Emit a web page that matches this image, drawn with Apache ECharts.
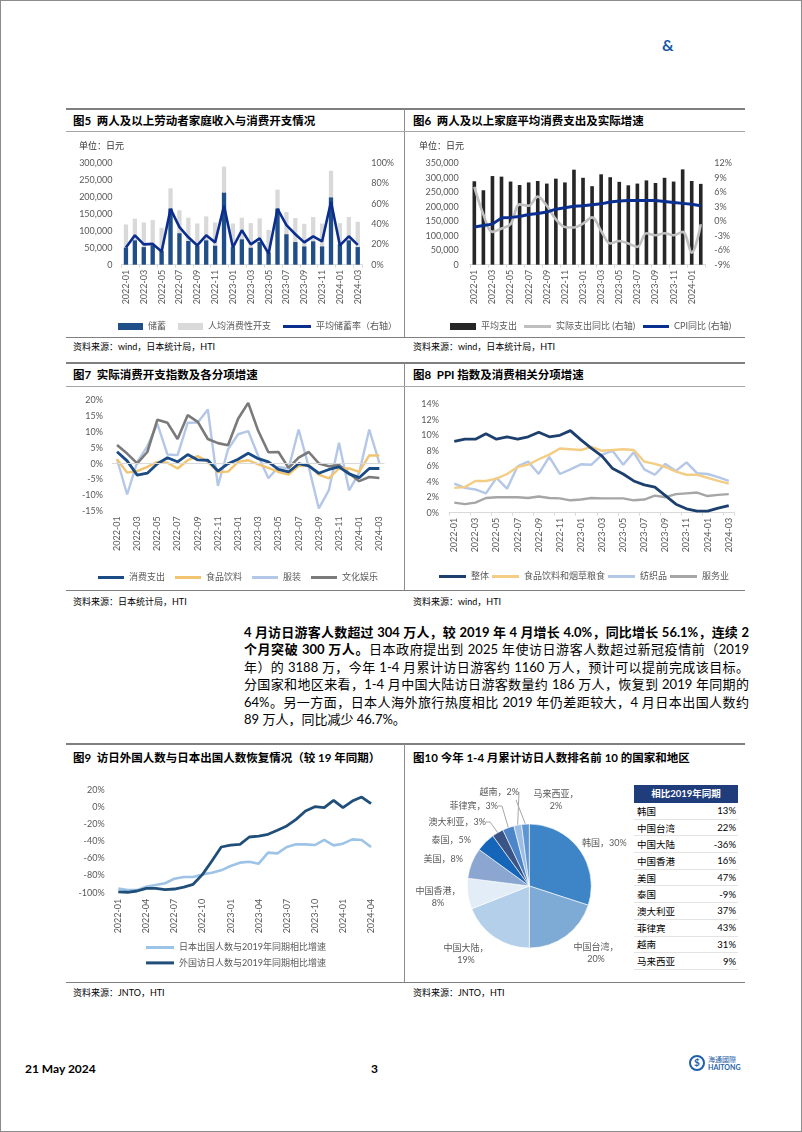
<!DOCTYPE html>
<html><head><meta charset="utf-8">
<script src="https://cdn.jsdelivr.net/npm/echarts/dist/echarts.min.js"></script>
<style>
html,body{margin:0;padding:0;background:#fff;}
#page{position:relative;width:802px;height:1132px;box-sizing:border-box;border:1px solid #8c8c8c;overflow:hidden;font-family:Lato,"Noto Sans CJK SC",sans-serif;}
.abs{position:absolute;}
.hl{position:absolute;height:0;}
.vl{position:absolute;width:0;}
.title{position:absolute;font-weight:bold;font-size:11.5px;color:#000;white-space:nowrap;line-height:14px;font-family:Lato,"Noto Sans CJK SC",sans-serif;}
.src{position:absolute;font-size:9px;color:#000;white-space:nowrap;line-height:11px;}
.para{position:absolute;left:243px;width:505px;font-size:13px;line-height:17.4px;color:#000;}
.para div{white-space:nowrap;text-align:justify;text-align-last:justify;}
.chart{position:absolute;}
.trow{display:flex;justify-content:space-between;align-items:center;height:16.7px;box-sizing:border-box;border-bottom:1px solid #e3e3e3;font-size:9.5px;color:#000;padding:0 2px 0 3px;}
.thead{height:18px;background:#1f3d7a;color:#fff;font-weight:bold;font-size:9.5px;text-align:center;line-height:18px;}
</style>
</head><body>
<div id="page">
  <div class="abs" style="left:661px;top:34px;font-size:16px;font-weight:bold;color:#1a5ba6;">&amp;</div>

  <!-- Row 1 -->
  <div class="hl" style="left:65px;width:679px;top:107px;border-top:2px solid #7f7f7f;"></div>
  <div class="vl" style="left:403px;top:108px;height:229px;border-left:1px solid #8c8c8c;"></div>
  <div class="title" style="left:72px;top:113px;">图5&nbsp;&nbsp;两人及以上劳动者家庭收入与消费开支情况</div>
  <div class="title" style="left:412px;top:113px;">图6&nbsp;&nbsp;两人及以上家庭平均消费支出及实际增速</div>
  <div class="hl" style="left:65px;width:679px;top:130px;border-top:1px solid #a6a6a6;"></div>
  <div class="abs" style="left:78px;top:138px;font-size:9px;color:#333;z-index:3;">单位：日元</div>
  <div class="abs" style="left:418px;top:138px;font-size:9px;color:#333;z-index:3;">单位：日元</div>
  <div class="hl" style="left:65px;width:679px;top:336px;border-top:1.5px solid #7f7f7f;"></div>
  <div class="src" style="left:72px;top:340px;">资料来源：wind，日本统计局，HTI</div>
  <div class="src" style="left:412px;top:340px;">资料来源：wind，日本统计局，HTI</div>

  <!-- Row 2 -->
  <div class="hl" style="left:65px;width:679px;top:361px;border-top:2px solid #7f7f7f;"></div>
  <div class="vl" style="left:403px;top:362px;height:228px;border-left:1px solid #8c8c8c;"></div>
  <div class="title" style="left:72px;top:367px;">图7&nbsp;&nbsp;实际消费开支指数及各分项增速</div>
  <div class="title" style="left:412px;top:367px;">图8&nbsp;&nbsp;PPI 指数及消费相关分项增速</div>
  <div class="hl" style="left:65px;width:679px;top:385px;border-top:1px solid #a6a6a6;"></div>
  <div class="hl" style="left:65px;width:679px;top:589px;border-top:1.5px solid #7f7f7f;"></div>
  <div class="src" style="left:72px;top:595px;">资料来源：日本统计局，HTI</div>
  <div class="src" style="left:412px;top:595px;">资料来源：wind，HTI</div>

  <!-- Paragraph -->
  <div class="para" style="top:623px;">
    <div><b>4 月访日游客人数超过 304 万人，较 2019 年 4 月增长 4.0%，同比增长 56.1%，连续 2</b></div>
    <div><b>个月突破 300 万人。</b>日本政府提出到 2025 年使访日游客人数超过新冠疫情前（2019</div>
    <div>年）的 3188 万，今年 1-4 月累计访日游客约 1160 万人，预计可以提前完成该目标。</div>
    <div>分国家和地区来看，1-4 月中国大陆访日游客数量约 186 万人，恢复到 2019 年同期的</div>
    <div>64%。另一方面，日本人海外旅行热度相比 2019 年仍差距较大，4 月日本出国人数约</div>
    <div style="text-align-last:left;">89 万人，同比减少 46.7%。</div>
  </div>

  <!-- Row 3 -->
  <div class="hl" style="left:65px;width:679px;top:742px;border-top:2px solid #7f7f7f;"></div>
  <div class="vl" style="left:403px;top:743px;height:239px;border-left:1px solid #8c8c8c;"></div>
  <div class="title" style="left:72px;top:750px;">图9&nbsp;&nbsp;访日外国人数与日本出国人数恢复情况（较 19 年同期）</div>
  <div class="title" style="left:412px;top:750px;">图10 今年 1-4 月累计访日人数排名前 10 的国家和地区</div>
  <div class="hl" style="left:65px;width:679px;top:981px;border-top:1.5px solid #7f7f7f;"></div>
  <div class="src" style="left:72px;top:986px;">资料来源：JNTO，HTI</div>
  <div class="src" style="left:412px;top:986px;">资料来源：JNTO，HTI</div>

  <!-- Footer -->
  <div class="abs" style="left:24px;top:1060px;font-size:12px;font-weight:bold;">21 May 2024</div>
  <div class="abs" style="left:370px;top:1060px;font-size:12px;font-weight:bold;">3</div>
  <div class="abs" style="left:688px;top:1054px;width:16px;height:16px;border-radius:50%;border:2px solid #1f5fa8;box-sizing:border-box;"></div>
  <div class="abs" style="left:693px;top:1055px;font-size:10px;font-weight:bold;color:#1f5fa8;">$</div>
  <div class="abs" style="left:707px;top:1054px;font-size:7px;color:#1f5fa8;line-height:8px;">海通國際<br><b>HAITONG</b></div>

  <div id="c5" class="chart" style="left:65px;top:131px;width:338px;height:205px;"></div>
  <div id="c6" class="chart" style="left:405px;top:131px;width:339px;height:205px;"></div>
  <div id="c7" class="chart" style="left:65px;top:386px;width:338px;height:204px;"></div>
  <div id="c8" class="chart" style="left:405px;top:386px;width:339px;height:204px;"></div>
  <div id="c9" class="chart" style="left:65px;top:768px;width:338px;height:214px;"></div>
  <div id="c10" class="chart" style="left:405px;top:768px;width:339px;height:214px;"></div>
  <div id="tbl" class="abs" style="left:633px;top:784px;width:104px;z-index:3;background:#fff;"></div>
</div>
<script>
// ---------------- DATA ----------------
const fig5Months = ['2022-01','2022-02','2022-03','2022-04','2022-05','2022-06','2022-07','2022-08','2022-09','2022-10','2022-11','2022-12','2023-01','2023-02','2023-03','2023-04','2023-05','2023-06','2023-07','2023-08','2023-09','2023-10','2023-11','2023-12','2024-01','2024-02','2024-03'];
const fig5Savings = [50500,72000,52000,57000,40000,166000,93000,70000,56000,72000,56000,213000,52000,75000,50000,67000,36000,166000,90000,67000,54000,69000,54000,199000,60000,72000,52000];
const fig5Consumption = [119000,136000,125000,132000,109000,226000,161000,139000,122000,143000,125000,290000,122000,139000,123000,137000,103000,222000,156000,138000,121000,141000,122000,278000,123000,141000,127000];
const fig5Rate = [17,29,20,20.5,13,55,37,27,19,29,22,58,17,34,20,26,11,55,39,30,22,28,23,62,19,28,19.5];

const fig6Months = ['2022-01','2022-02','2022-03','2022-04','2022-05','2022-06','2022-07','2022-08','2022-09','2022-10','2022-11','2022-12','2023-01','2023-02','2023-03','2023-04','2023-05','2023-06','2023-07','2023-08','2023-09','2023-10','2023-11','2023-12','2024-01','2024-02'];
const fig6Spend = [288000,257000,306000,304000,287000,275000,284000,289000,280000,297000,284000,328000,300000,271000,312000,302000,286000,274000,280000,291000,282000,300000,287000,329000,289000,279000];
const fig6RealYoY = [7.1,1.4,-2.2,-1.5,-0.6,3.5,3.2,5.1,3.2,0.4,-1.2,-1.3,-0.5,0.8,-2.0,-4.6,-4.1,-4.6,-5.3,-2.5,-2.9,-2.5,-2.9,-2.2,-6.5,-0.6];
const fig6Cpi = [-1.2,-0.9,-0.6,0.7,0.8,1.0,1.4,1.6,1.9,2.5,2.8,3.1,3.2,3.4,3.6,4.0,4.2,4.3,4.3,4.3,4.3,4.1,3.9,3.7,3.5,3.2];

const fig7Months = ['2022-01','2022-02','2022-03','2022-04','2022-05','2022-06','2022-07','2022-08','2022-09','2022-10','2022-11','2022-12','2023-01','2023-02','2023-03','2023-04','2023-05','2023-06','2023-07','2023-08','2023-09','2023-10','2023-11','2023-12','2024-01','2024-02','2024-03'];
const fig7Total = [3.8,0.9,-3.6,-3.0,0,1.9,0.6,2.9,1.2,1.1,-2.3,0,1.4,3.3,1.6,0.6,-1.8,-2.6,0,-0.7,-3.0,-1.8,-1.0,-3.2,-4.4,-1.5,-1.5];
const fig7Food = [1.4,-2.8,-2.3,-1.0,0.6,0.3,-1.5,1.1,2.4,0.6,-2.6,-2.5,0.6,1.1,-0.2,-1.3,-2.6,-3.4,-0.7,-0.4,-3.4,-4.6,-1.5,-1.5,-2.6,2.6,2.6];
const fig7Clothing = [1.4,-9.7,0.5,5.5,12.6,2.9,2.7,12.9,13,17.1,-7.0,4.5,9.3,10.3,2.4,-4.6,-1.0,-1.5,10.8,-1.0,-14.1,-8.3,6.6,-8.4,-2.8,10.8,0.3];
const fig7Culture = [5.9,3.2,0.1,3.7,13.9,12.9,7.8,15.3,13.2,7.8,6.5,5.8,14.2,19.2,10.3,3.6,3.7,-1.3,1.9,3.7,0.1,-0.8,-0.4,-3.0,-5.5,-4.2,-4.5];

const fig8Months = ['2022-01','2022-02','2022-03','2022-04','2022-05','2022-06','2022-07','2022-08','2022-09','2022-10','2022-11','2022-12','2023-01','2023-02','2023-03','2023-04','2023-05','2023-06','2023-07','2023-08','2023-09','2023-10','2023-11','2023-12','2024-01','2024-02','2024-03'];
const fig8Overall = [9.2,9.5,9.5,10.2,9.5,9.8,9.5,9.8,10.4,9.8,10.0,10.6,9.4,8.3,7.3,5.7,5.0,4.1,3.6,3.3,2.2,1.1,0.5,0.2,0.2,0.6,0.9];
const fig8Food = [3.2,3.3,4.1,4.1,4.4,5.0,5.9,6.2,6.9,7.5,8.3,8.2,8.1,8.5,8.0,8.1,8.2,8.1,6.6,6.3,5.9,5.3,4.9,4.9,4.5,4.1,3.75];
const fig8Textile = [3.75,3.2,3.0,2.5,4.5,3.1,6.0,6.6,5.0,7.2,5.0,5.6,6.25,6.2,7.5,8.0,6.2,7.8,5.6,4.9,6.3,5.4,6.5,5.1,5.0,4.6,4.1];
const fig8Service = [1.3,1.1,1.3,1.9,2.0,2.0,2.0,1.9,2.1,1.9,1.85,1.6,1.7,1.9,1.85,1.85,1.85,1.6,1.7,2.2,2.0,2.4,2.5,2.6,2.15,2.3,2.4];

const fig9Months = ['2022-01','2022-02','2022-03','2022-04','2022-05','2022-06','2022-07','2022-08','2022-09','2022-10','2022-11','2022-12','2023-01','2023-02','2023-03','2023-04','2023-05','2023-06','2023-07','2023-08','2023-09','2023-10','2023-11','2023-12','2024-01','2024-02','2024-03','2024-04'];
const fig9Outbound = [-95,-97,-97,-93,-91,-89,-83.6,-81.7,-81.7,-78.6,-76.6,-73.9,-68.8,-64.9,-63.8,-66.1,-53.2,-54,-46.6,-43.5,-43.5,-44.3,-38.4,-44.7,-42.7,-37.7,-38.4,-46.7];
const fig9Inbound = [-99,-99.5,-98,-95,-95,-96.5,-95.7,-93.4,-90.2,-78.6,-63,-46.6,-44.3,-43.5,-34.9,-33.8,-31.8,-27.1,-22,-14.3,-4.5,0.5,-0.6,7.9,-0.6,7.1,11.8,4.0];

const fig10Countries = ['韩国','中国台湾','中国大陆','中国香港','美国','泰国','澳大利亚','菲律宾','越南','马来西亚'];
const fig10Share = [30,20,19,8,8,5,3,3,2,2];
const fig10Vs2019 = [13,22,-36,16,47,-9,37,43,31,9];

// ---------------- STYLE ----------------
const FONT = 'Lato, "Noto Sans CJK SC", sans-serif';
const LBL = '#595959';
const axisTxt = {fontSize:9, color:LBL, fontFamily:FONT};
const legendTxt = {fontSize:9, color:LBL, fontFamily:FONT};

function catAxis(data, interval, opts){
  return Object.assign({
    type:'category', data:data,
    axisLine:{show:true, lineStyle:{color:'#d9d9d9'}},
    axisTick:{show:true, length:3, lineStyle:{color:'#d9d9d9'}},
    axisLabel:Object.assign({rotate:90, interval:interval, margin:5}, axisTxt)
  }, opts||{});
}
function valAxis(min,max,iv,fmt,margin){
  return {type:'value', min:min, max:max, interval:iv,
    splitLine:{show:false}, axisLine:{show:false}, axisTick:{show:false},
    axisLabel:Object.assign({formatter:fmt, margin:margin}, axisTxt)};
}
function lg(left, top, names, extra){
  return Object.assign({left:left, top:top, icon:'rect', itemWidth:26, itemHeight:3, itemGap:10,
    textStyle:legendTxt, data:names}, extra||{});
}
const pct = v => v + '%';
const thousands = v => String(v).replace(/\B(?=(\d{3})+(?!\d))/g, ',');

// Fig 5
echarts.init(document.getElementById('c5')).setOption({
  animation:false,
  grid:{left:55.5, right:41.8, top:31.3, bottom:72.3},
  legend:[
    lg(47, 185, ['储蓄','人均消费性开支'], {itemWidth:25, itemHeight:7, itemGap:12}),
    lg(212, 185, ['平均储蓄率（右轴）'], {itemWidth:28})
  ],
  xAxis:catAxis(fig5Months,1),
  yAxis:[valAxis(0,300000,50000,thousands,9), valAxis(0,100,20,pct,9)],
  series:[
    {name:'人均消费性开支', type:'bar', data:fig5Consumption, barWidth:'48%', barGap:'-100%', itemStyle:{color:'#d9d9d9'}},
    {name:'储蓄', type:'bar', data:fig5Savings, barWidth:'48%', barGap:'-100%', itemStyle:{color:'#1f4e89'}},
    {name:'平均储蓄率（右轴）', type:'line', yAxisIndex:1, data:fig5Rate, symbol:'none',
      lineStyle:{width:2.6, color:'#0b2e8e'}, itemStyle:{color:'#0b2e8e'}}
  ]
});

// Fig 6
echarts.init(document.getElementById('c6')).setOption({
  animation:false,
  grid:{left:63.8, right:39.7, top:31.3, bottom:72.3},
  legend:[
    lg(39, 185, ['平均支出'], {itemWidth:26, itemHeight:7}),
    lg(113, 185, ['实际支出同比 (右轴)'], {itemWidth:27}),
    lg(232, 185, ['CPI同比 (右轴)'], {itemWidth:26})
  ],
  xAxis:catAxis(fig6Months,1),
  yAxis:[valAxis(0,350000,50000,thousands,11), valAxis(-9,12,3,pct,9)],
  series:[
    {name:'平均支出', type:'bar', data:fig6Spend, barWidth:'40%', itemStyle:{color:'#262626'}},
    {name:'实际支出同比 (右轴)', type:'line', yAxisIndex:1, data:fig6RealYoY, symbol:'none', smooth:0.35,
      lineStyle:{width:2.6, color:'#bfbfbf'}, itemStyle:{color:'#bfbfbf'}},
    {name:'CPI同比 (右轴)', type:'line', yAxisIndex:1, data:fig6Cpi, symbol:'none',
      lineStyle:{width:3, color:'#0a2f91'}, itemStyle:{color:'#0a2f91'}}
  ]
});

// Fig 7
echarts.init(document.getElementById('c7')).setOption({
  animation:false,
  grid:{left:46, right:19.6, top:13.3, bottom:79.7},
  legend:lg(27, 181, ['消费支出','食品饮料','服装','文化娱乐'], {itemGap:10}),
  xAxis:catAxis(fig7Months,1,{axisLine:{show:false}, axisTick:{show:false}}),
  yAxis:valAxis(-15,20,5,pct,9),
  series:[
    {name:'服装', type:'line', data:fig7Clothing, symbol:'none', lineStyle:{width:2.4,color:'#b4c7e7'}, itemStyle:{color:'#b4c7e7'},
      markLine:{silent:true, symbol:'none', label:{show:false}, lineStyle:{color:'#d9d9d9', width:1, type:'solid'}, data:[{yAxis:0}]}},
    {name:'文化娱乐', type:'line', data:fig7Culture, symbol:'none', lineStyle:{width:2.6,color:'#7a7a7a'}, itemStyle:{color:'#7a7a7a'}},
    {name:'食品饮料', type:'line', data:fig7Food, symbol:'none', lineStyle:{width:2.4,color:'#f2c46f'}, itemStyle:{color:'#f2c46f'}},
    {name:'消费支出', type:'line', data:fig7Total, symbol:'none', lineStyle:{width:2.8,color:'#1a4b84'}, itemStyle:{color:'#1a4b84'}}
  ]
});

// Fig 8
echarts.init(document.getElementById('c8')).setOption({
  animation:false,
  grid:{left:43, right:11, top:17.3, bottom:78.3},
  legend:lg(28, 180, ['整体','食品饮料和烟草粮食','纺织品','服务业'], {itemGap:3, itemWidth:27}),
  xAxis:catAxis(fig8Months,1),
  yAxis:valAxis(0,14,2,pct,10),
  series:[
    {name:'服务业', type:'line', data:fig8Service, symbol:'none', lineStyle:{width:2.4,color:'#a6a6a6'}, itemStyle:{color:'#a6a6a6'}},
    {name:'纺织品', type:'line', data:fig8Textile, symbol:'none', lineStyle:{width:2.4,color:'#b4c7e7'}, itemStyle:{color:'#b4c7e7'}},
    {name:'食品饮料和烟草粮食', type:'line', data:fig8Food, symbol:'none', lineStyle:{width:2.4,color:'#f4cd85'}, itemStyle:{color:'#f4cd85'}},
    {name:'整体', type:'line', data:fig8Overall, symbol:'none', lineStyle:{width:2.8,color:'#1c3f6e'}, itemStyle:{color:'#1c3f6e'}}
  ]
});

// Fig 9
echarts.init(document.getElementById('c9')).setOption({
  animation:false,
  grid:{left:47.6, right:28.3, top:21, bottom:90.3},
  legend:lg(75, 169, ['日本出国人数与2019年同期相比增速','外国访日人数与2019年同期相比增速'],
    {orient:'vertical', itemWidth:28, itemGap:6.4}),
  xAxis:catAxis(fig9Months,2,{axisLine:{show:false}, axisTick:{show:false}, axisLabel:Object.assign({rotate:90, interval:2, margin:6}, axisTxt)}),
  yAxis:valAxis(-100,20,20,pct,9),
  series:[
    {name:'日本出国人数与2019年同期相比增速', type:'line', data:fig9Outbound, symbol:'none', lineStyle:{width:2.6,color:'#9dc3e6'}, itemStyle:{color:'#9dc3e6'}},
    {name:'外国访日人数与2019年同期相比增速', type:'line', data:fig9Inbound, symbol:'none', lineStyle:{width:2.8,color:'#1f4e79'}, itemStyle:{color:'#1f4e79'}}
  ]
});

// Fig 10 pie
const pieColors = ['#3d85c6','#7eaad6','#b4cfea','#e3edf7','#8aa6d1','#1565b8','#3a5585','#4d86c8','#9dbde3','#5e95d2'];
const wrapNames = {'中国台湾':1,'中国大陆':1,'中国香港':1,'马来西亚':1};
// label anchor points inside the chart box (layout only)
const pieLabelPos = [[176,74,'left'],[190,184,'center'],[60,185,'center'],[32,128,'center'],[57,90,'right'],
                     [65,71,'right'],[80,53,'right'],[92,37,'right'],[113,23,'right'],[150,31,'center']];
echarts.init(document.getElementById('c10')).setOption({
  animation:false,
  series:[{
    type:'pie', center:[123.3,117], radius:62, startAngle:90, clockwise:true,
    itemStyle:{borderColor:'#fff', borderWidth:0.6},
    label:{fontSize:9, color:LBL, fontFamily:FONT, lineHeight:12, overflow:'none', edgeDistance:0, bleedMargin:0,
      formatter:p => p.name + '，' + (wrapNames[p.name] ? '\n' : '') + p.value + '%'},
    labelLine:{length:6, length2:4, lineStyle:{color:'#a6a6a6', width:1}},
    labelLayout:function(p){
      const q = pieLabelPos[p.dataIndex];
      return {x:q[0], y:q[1], align:q[2], verticalAlign:'middle', width:80};
    },
    data:fig10Countries.map((n,i)=>({name:n, value:fig10Share[i], itemStyle:{color:pieColors[i]},
      labelLine:{show:fig10Share[i] < 4}}))
  }]
});

// Fig 10 table
(function(){
  let h = '<div class="thead">相比2019年同期</div>';
  fig10Countries.forEach((n,i)=>{
    h += '<div class="trow"><span>'+n+'</span><span>'+fig10Vs2019[i]+'%</span></div>';
  });
  document.getElementById('tbl').innerHTML = h;
})();
</script>
</body></html>
